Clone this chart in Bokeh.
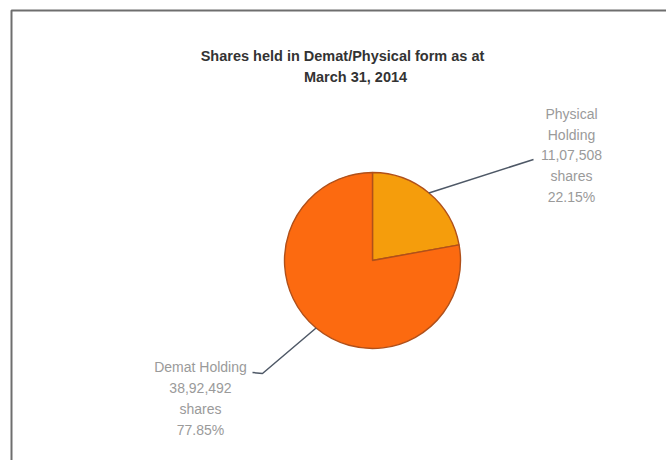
import math
from bokeh.plotting import figure
from bokeh.models import ColumnDataSource
from bokeh.core.properties import value
from bokeh.embed import file_html
from bokeh.resources import INLINE

# ---- data ----
categories = ["Physical Holding", "Demat Holding"]
shares = [1107508, 3892492]
share_labels = ["11,07,508", "38,92,492"]
pct_labels = ["22.15%", "77.85%"]
colors = ["#f59d0c", "#fc6a10"]
title_lines = ["Shares held in Demat/Physical form as at", "March 31, 2014"]

W, H = 666, 460
p = figure(width=W, height=H, x_range=(0, W), y_range=(0, H),
           output_backend="svg", toolbar_location=None, min_border=0)
p.axis.visible = False
p.grid.visible = False
p.outline_line_color = None
p.background_fill_color = "white"
p.border_fill_color = "white"

def Y(py):
    return H - py

# border (only top and left visible in the crop)
p.line([11, 11, W], [Y(H), Y(10), Y(10)], line_color="#6e6e6e", line_width=2)

# pie
cx, cy, r = 372, Y(260), 88
total = float(sum(shares))
starts, ends, mids = [], [], []
ang = 90.0
for s in shares:
    sweep = s / total * 360.0
    a0 = ang - sweep
    starts.append(math.radians(a0))
    ends.append(math.radians(ang))
    mids.append(math.radians(ang - sweep / 2))
    ang = a0
src = ColumnDataSource(dict(cat=categories, start=starts, end=ends, color=colors))
p.wedge(x=cx, y=cy, radius=r, start_angle="start", end_angle="end",
        fill_color="color", line_color="#b0501a", line_width=1.4, source=src)

# leader lines
lead_ends = [[(533, 159)], [(262, 373), (252, 372)]]
for m, pts in zip(mids, lead_ends):
    xs = [cx + r * math.cos(m)] + [pt[0] for pt in pts]
    ys = [cy + r * math.sin(m)] + [Y(pt[1]) for pt in pts]
    p.line(xs, ys, line_color="#4e5866", line_width=1.5)

# labels
label_pos = [(571, 155), (200, 398)]
texts = []
for c, s, pc in zip(categories, share_labels, pct_labels):
    if c.startswith("Physical"):
        texts.append("Physical\nHolding\n" + s + "\nshares\n" + pc)
    else:
        texts.append(c + "\n" + s + "\nshares\n" + pc)
p.text(x=[lp[0] for lp in label_pos], y=[Y(lp[1]) for lp in label_pos], text=texts,
       text_font=value("Liberation Sans"), text_font_size="14px",
       text_color="#9a9a9a", text_align="center", text_baseline="middle",
       text_line_height=1.3)

# title
p.text(x=[342, 355], y=[Y(55), Y(76)], text=title_lines,
       text_font=value("Liberation Sans"), text_font_size="14.5px", text_font_style="bold",
       text_color="#333333", text_align="center", text_baseline="middle")

open("out.html", "w").write(file_html(p, INLINE))
